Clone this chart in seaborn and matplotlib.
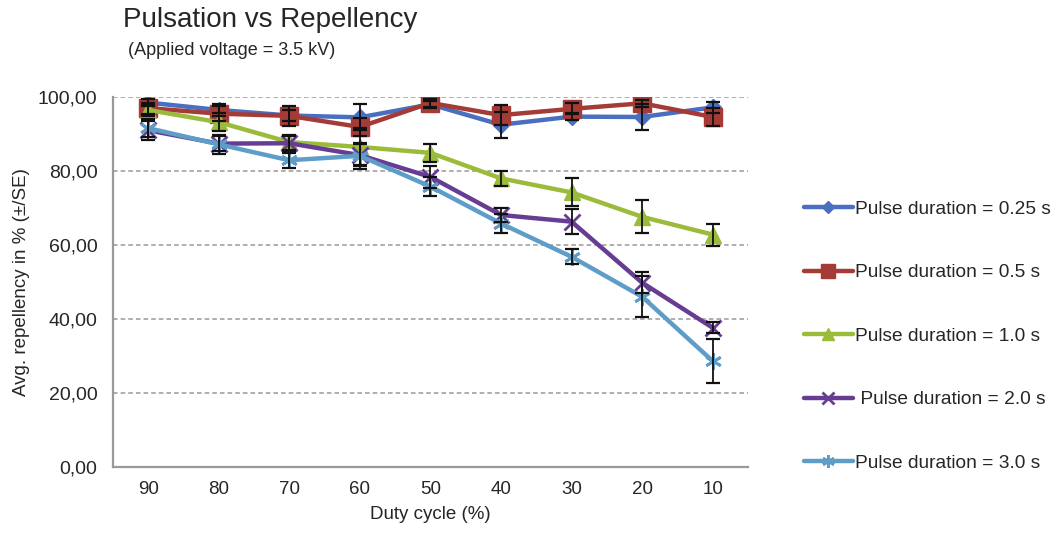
import numpy as np
import pandas as pd
import matplotlib
matplotlib.use("Agg")
import matplotlib.pyplot as plt
import seaborn as sns

duty_cycle = ["90", "80", "70", "60", "50", "40", "30", "20", "10"]
series_names = ["Pulse duration = 0.25 s", "Pulse duration = 0.5 s",
                "Pulse duration = 1.0 s", " Pulse duration = 2.0 s",
                "Pulse duration = 3.0 s"]
rep_025 = [98.5, 96.5, 95.0, 94.5, 98.0, 92.5, 94.7, 94.6, 97.2]
rep_05 = [97.0, 95.5, 94.9, 91.9, 98.4, 95.1, 96.8, 98.3, 94.6]
rep_10 = [96.5, 93.2, 87.8, 86.5, 84.9, 78.0, 74.2, 67.6, 62.8]
rep_20 = [91.0, 87.4, 87.5, 84.3, 78.4, 68.1, 66.3, 49.8, 37.6]
rep_30 = [91.6, 87.2, 82.9, 84.1, 75.8, 65.8, 56.8, 46.0, 28.6]
se_025 = [1.0, 1.5, 1.5, 3.5, 1.0, 3.5, 1.0, 3.5, 1.5]
se_05 = [1.5, 2.0, 2.7, 2.5, 1.0, 2.7, 1.5, 1.0, 2.5]
se_10 = [1.5, 2.5, 2.0, 5.0, 2.4, 2.0, 3.8, 4.5, 3.0]
se_20 = [2.5, 2.0, 2.0, 3.0, 3.0, 2.0, 3.3, 2.8, 1.5]
se_30 = [2.5, 2.5, 2.0, 3.5, 2.5, 2.5, 2.0, 5.5, 6.0]
ytick_vals = [0, 20, 40, 60, 80, 100]
ytick_labels = ["0,00", "20,00", "40,00", "60,00", "80,00", "100,00"]

values = [rep_025, rep_05, rep_10, rep_20, rep_30]
errors = [se_025, se_05, se_10, se_20, se_30]
colors = ["#4A6FC0", "#A53B37", "#9BBB3B", "#673D94", "#5E9DC8"]
markers = ["D", "s", "^", "x", (6, 2, 0)]
msizes = [8, 13, 11, 11, 12]

rows = []
for name, vals in zip(series_names, values):
    for d, v in zip(duty_cycle, vals):
        rows.append({"duty": d, "rep": v, "series": name})
df = pd.DataFrame(rows)

sns.set_style("white")
plt.rcParams["font.family"] = ["Liberation Sans", "DejaVu Sans"]

fig = plt.figure(figsize=(10.64, 5.36), dpi=100)
ax = fig.add_axes([0.106, 0.129, 0.597, 0.690])

xpos = np.arange(len(duty_cycle))
for i, (vals, errs) in enumerate(zip(values, errors)):
    ax.errorbar(xpos, vals, yerr=errs, fmt="none", ecolor="#111111",
                elinewidth=1.3, capsize=5, capthick=1.6, zorder=3)

for i, name in enumerate(series_names):
    sub = df[df["series"] == name]
    sns.lineplot(data=sub, x="duty", y="rep", ax=ax, color=colors[i],
                 marker=markers[i], markersize=msizes[i], linewidth=3.2,
                 markeredgecolor=colors[i], markeredgewidth=2 if i >= 3 else 1,
                 label=name, sort=False, zorder=2 + i * 0.01)

ax.set_xlim(-0.5, len(duty_cycle) - 0.5)
ax.set_ylim(0, 100)
ax.set_yticks(ytick_vals)
ax.set_yticklabels(ytick_labels, fontsize=14)
ax.set_xticks(xpos)
ax.set_xticklabels(duty_cycle, fontsize=13.5)
ax.set_xticks(np.arange(len(duty_cycle) + 1) - 0.5, minor=True)
ax.tick_params(axis="x", which="major", length=0, pad=10)
ax.tick_params(axis="x", which="minor", length=5, color="#888888", width=1.2, direction="out")
ax.tick_params(axis="y", length=5, color="#888888", width=1.2, direction="out", pad=6)
for y in ytick_vals[1:]:
    ax.axhline(y, color="#999999", linestyle=(0, (3, 2)), linewidth=1.1, zorder=1)
for s in ["top", "right"]:
    ax.spines[s].set_visible(False)
for s in ["left", "bottom"]:
    ax.spines[s].set_color("#999999")
    ax.spines[s].set_linewidth(1.6)
ax.set_xlabel("Duty cycle (%)", fontsize=13.5, labelpad=6)
ax.set_ylabel("Avg. repellency in % (\u00b1/SE)", fontsize=13.5, labelpad=6)

handles, labels = ax.get_legend_handles_labels()
ax.get_legend().remove()
fig.legend(handles, labels, loc="upper left", bbox_to_anchor=(0.748, 0.64),
           frameon=False, fontsize=13.8, labelspacing=2.4, handlelength=2.6,
           handletextpad=0.1, borderaxespad=0, markerscale=0.75)

fig.text(0.116, 0.962, "Pulsation vs Repellency", fontsize=20, va="center", ha="left")
fig.text(0.120, 0.905, "(Applied voltage = 3.5 kV)", fontsize=13, va="center", ha="left")

fig.savefig("out.png", dpi=100)
